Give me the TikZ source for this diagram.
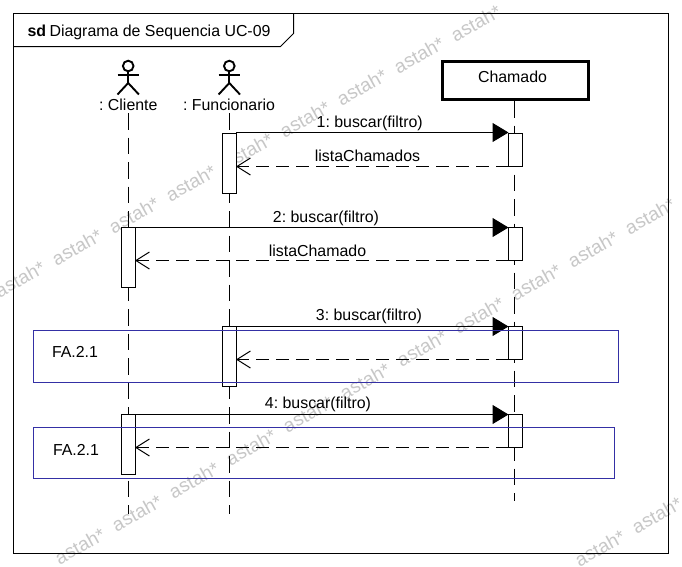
\documentclass[tikz,border=0pt]{standalone}
\usepackage{fontspec}
\setmainfont{Liberation Sans}
\usetikzlibrary{arrows.meta}
\definecolor{fablue}{RGB}{52,48,165}
\tikzset{
  x=1pt,y=-1pt,
  every node/.style={outer sep=0pt},
  wm/.style={text=black!22,font=\fontsize{19}{19}\selectfont,rotate=29,inner sep=0pt},
  lbl/.style={font=\fontsize{15.9}{16}\selectfont\frenchspacing,inner sep=0pt,text=black},
  life/.style={draw=black,line width=1.1pt,dash pattern=on 16.5pt off 8pt},
  act/.style={draw=black,fill=white,line width=1pt,minimum width=13.5pt,inner sep=0pt,anchor=north west},
  msg/.style={draw=black,line width=1pt,-{Triangle[length=16pt,width=19pt]}},
  ret/.style={draw=black,line width=1pt,dash pattern=on 13pt off 7pt,-{Straight Barb[length=13.5pt,width=17pt,line width=1pt]}},
  stick/.style={draw=black,line width=1.9pt},
  fa/.style={draw=fablue,line width=1pt,inner sep=0pt,anchor=north west}
}
\begin{document}
\begin{tikzpicture}
\useasboundingbox (0,0) rectangle (682,566);
\clip (0,0) rectangle (682,566);
\fill[white] (0,0) rectangle (682,566);
% watermarks
\foreach \i in {-3,...,5}{
  \node[wm] (wa\i) at ({191+57*\i},{183-32*\i}) {astah*};
}
\foreach \i in {0,...,11}{
  \node[wm] (wb\i) at ({80+57*\i},{546-33*\i}) {astah*};
}
\foreach \i in {0,...,2}{
  \node[wm] (wc\i) at ({600+57*\i},{548-33*\i}) {astah*};
}
% frame
\node[draw=black,line width=1pt,minimum width=654.5pt,minimum height=539.5pt,inner sep=0pt,anchor=north west] (frame) at (13.5,13.5) {};
\draw[black,line width=1pt] (13.5,46.5) -- (280.5,46.5) -- (293.5,33.5) -- (293.5,13.5);
\node[lbl,anchor=base west] (title) at (27.5,36.5) {\textbf{sd}\hspace{3.5pt}Diagrama de Sequencia UC-09};
% actors
\node[lbl] (cliente) at (128.3,105) {: Cliente};
\node[lbl] (func) at (229,105) {: Funcionario};
\foreach \x in {128.2,229.3}{
  \draw[stick] (\x,66) circle (5.3);
  \draw[stick] (\x,71) -- (\x,83);
  \draw[stick] (\x-10.7,75) -- (\x+10.7,75);
  \draw[stick] (\x-10.7,94.5) -- (\x,83) -- (\x+10.7,94.5);
}
\node[draw=black,fill=white,line width=3pt,minimum width=146pt,minimum height=38pt,inner sep=0pt,anchor=north west] (chamado) at (442,61.5) {};
\node[lbl] (chamadot) at (512.5,76.5) {Chamado};
% lifeline ends
\coordinate (cTop) at (128.5,113);
\coordinate (cEnd) at (128.5,513.5);
\coordinate (fTop) at (229.5,113);
\coordinate (fEnd) at (229.5,513.5);
\coordinate (hTop) at (514.5,101);
\coordinate (hEnd) at (514.5,500.5);
\draw[life] (cTop) -- (cEnd);
\draw[life] (fTop) -- (fEnd);
\draw[life] (hTop) -- (hEnd);
% activations
\node[act,minimum height=60pt] (f1) at (222.5,133.5) {};
\node[act,minimum height=33pt] (h1) at (508.5,133.5) {};
\node[act,minimum height=60pt] (c1) at (121.5,227.5) {};
\node[act,minimum height=33pt] (h2) at (508.5,227.5) {};
\node[act,minimum height=60pt] (f2) at (222.5,326.5) {};
\node[act,minimum height=33pt] (h3) at (508.5,326.5) {};
\node[act,minimum height=60pt] (c2) at (121.5,414.5) {};
\node[act,minimum height=33pt] (h4) at (508.5,414.5) {};
% messages
\draw[msg] ([yshift=1pt]f1.north east) -- ([yshift=1pt]h1.north west);
\draw[ret] (h1.south west) -- (h1.south west -| f1.east);
\draw[msg] (c1.north east) -- (h2.north west);
\draw[ret] (h2.south west) -- (h2.south west -| c1.east);
\draw[msg] (f2.north east) -- (h3.north west);
\draw[ret] (h3.south west) -- (h3.south west -| f2.east);
\draw[msg] (c2.north east) -- (h4.north west);
\draw[ret] (h4.south west) -- (h4.south west -| c2.east);
% labels
\node[lbl] (m1) at (369.7,123) {1: buscar(filtro)};
\node[lbl] (r1) at (367.5,155.5) {listaChamados};
\node[lbl] (m2) at (326,218.5) {2: buscar(filtro)};
\node[lbl] (r2) at (317.5,250.5) {listaChamado};
\node[lbl] (m3) at (369,316.5) {3: buscar(filtro)};
\node[lbl] (m4) at (318,404.5) {4: buscar(filtro)};
% fragments
\node[fa,minimum width=585pt,minimum height=52pt] (fa1) at (33.5,330.5) {};
\node[fa,minimum width=581pt,minimum height=51pt] (fa2) at (33.5,427.5) {};
\node[lbl] (fa1t) at (75,351.5) {FA.2.1};
\node[lbl] (fa2t) at (76,450) {FA.2.1};
\end{tikzpicture}
\end{document}
